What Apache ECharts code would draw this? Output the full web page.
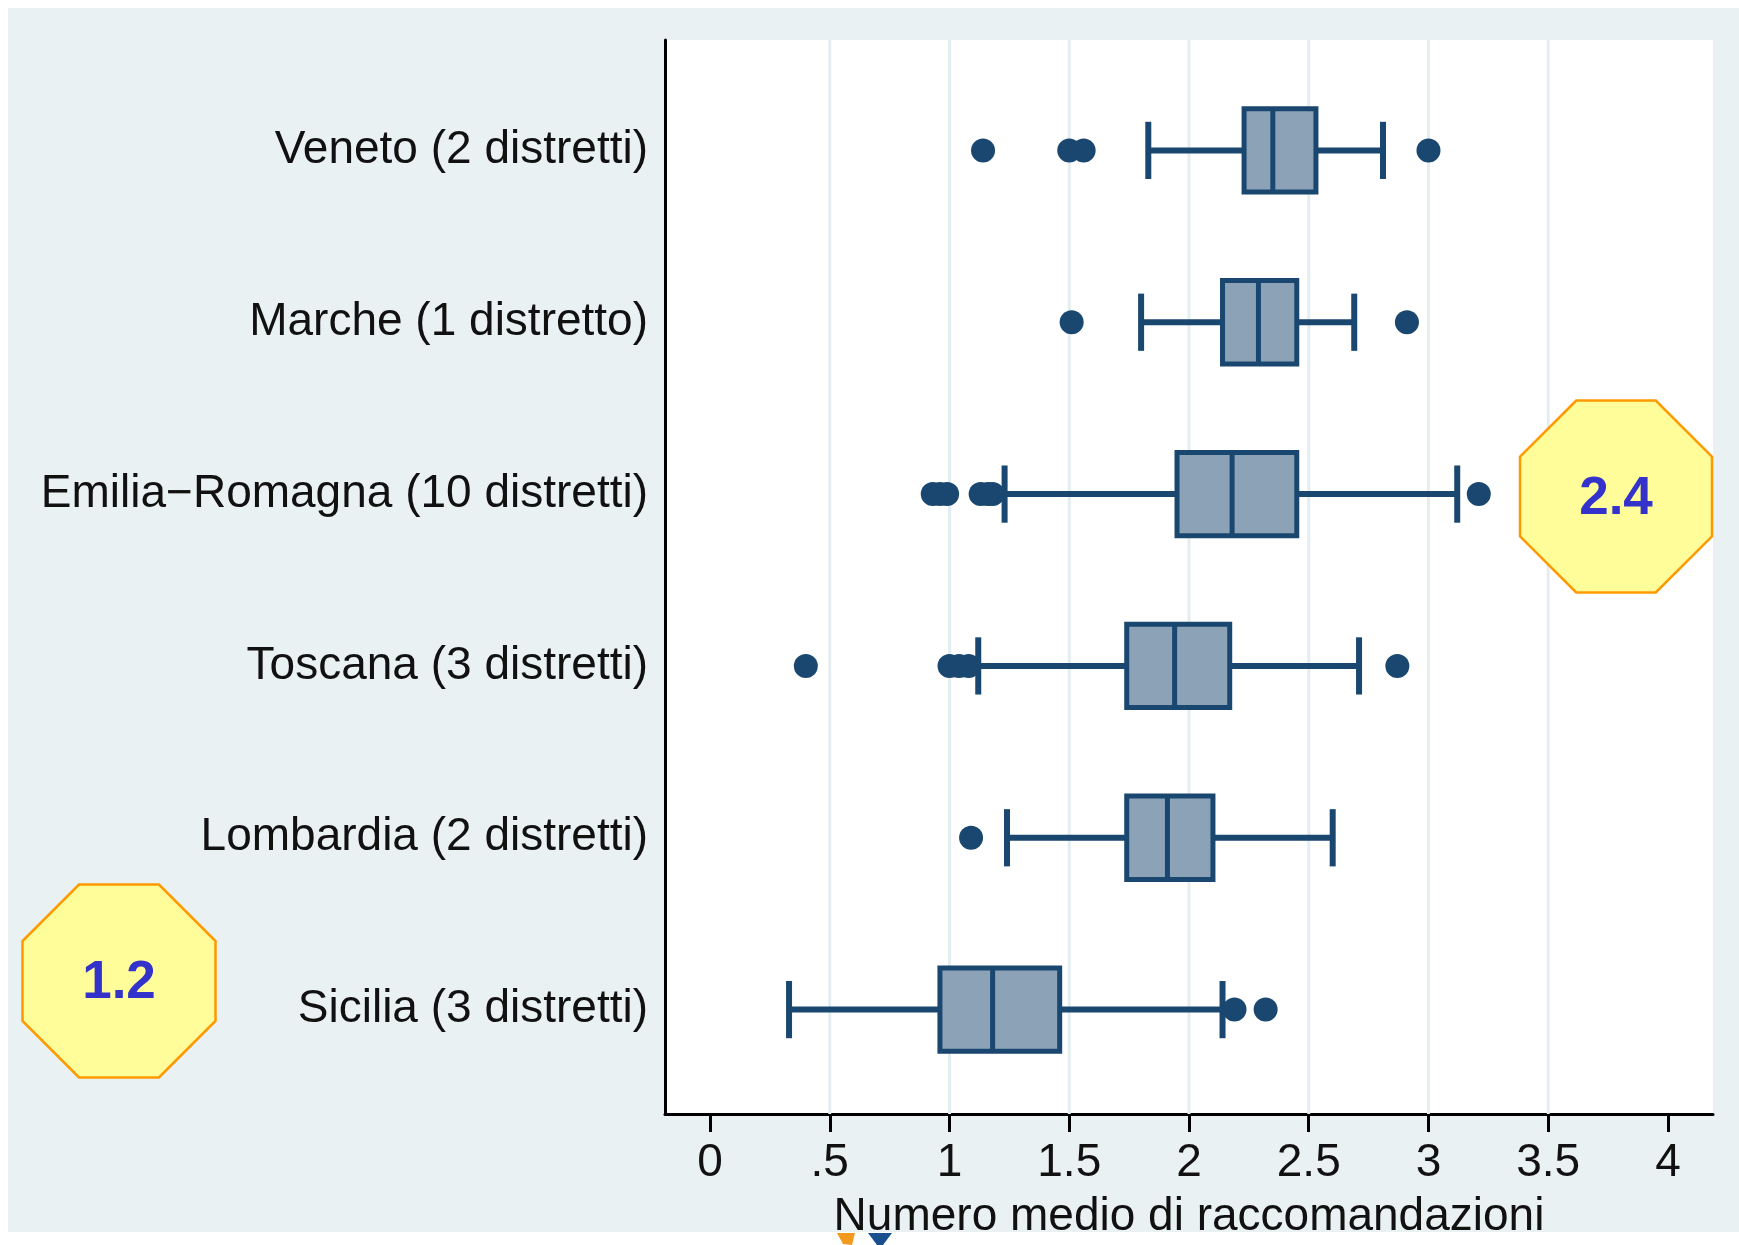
<!DOCTYPE html>
<html>
<head>
<meta charset="utf-8">
<script src="https://cdn.jsdelivr.net/npm/echarts@6/dist/echarts.min.js"></script>
<style>
  html, body { margin: 0; padding: 0; background: #ffffff; }
  #chart { width: 1739px; height: 1245px; }
</style>
</head>
<body>
<div id="chart"></div>
<script>
// ---- data ----
const categories = [
  'Veneto (2 distretti)',
  'Marche (1 distretto)',
  'Emilia\u2212Romagna (10 distretti)',
  'Toscana (3 distretti)',
  'Lombardia (2 distretti)',
  'Sicilia (3 distretti)'
];
const lowerWhisker = [1.83, 1.80, 1.23, 1.12, 1.24, 0.33];
const q1Values     = [2.23, 2.14, 1.95, 1.74, 1.74, 0.96];
const medianValues = [2.35, 2.29, 2.18, 1.94, 1.91, 1.18];
const q3Values     = [2.53, 2.45, 2.45, 2.17, 2.10, 1.46];
const upperWhisker = [2.81, 2.69, 3.12, 2.71, 2.60, 2.14];
const outliersVeneto    = [1.14, 1.50, 1.56, 3.00];
const outliersMarche    = [1.51, 2.91];
const outliersEmilia    = [0.93, 0.96, 0.99, 1.13, 1.16, 1.18, 3.21];
const outliersToscana   = [0.40, 1.00, 1.04, 1.08, 2.87];
const outliersLombardia = [1.09];
const outliersSicilia   = [2.19, 2.32];
const xTickValues = [0, 0.5, 1, 1.5, 2, 2.5, 3, 3.5, 4];
const xTickLabels = ['0', '.5', '1', '1.5', '2', '2.5', '3', '3.5', '4'];
const gridValues  = [0.5, 1, 1.5, 2, 2.5, 3, 3.5];
const xTitle = 'Numero medio di raccomandazioni';
const badgeHigh = '2.4';
const badgeLow  = '1.2';

// ---- build library structures ----
const outlierLists = [outliersVeneto, outliersMarche, outliersEmilia, outliersToscana, outliersLombardia, outliersSicilia];
const rowIdx = categories.map((c, i) => i);
const boxData = rowIdx.map(i => [i, lowerWhisker[i], q1Values[i], medianValues[i], q3Values[i], upperWhisker[i]]);
const outlierData = [];
outlierLists.forEach((list, i) => list.forEach(v => outlierData.push([v, i])));
const gridData = gridValues.map(v => [v, 0]);

const NAVY = '#1A476F';
const FILL = '#8CA3B7';
const FONT = 'Liberation Sans, Arial, sans-serif';

function octagon(cx, cy, w) {
  const h = w / 2, s = w / (2 * (1 + Math.SQRT2));
  return [[cx - s, cy - h], [cx + s, cy - h], [cx + h, cy - s], [cx + h, cy + s],
          [cx + s, cy + h], [cx - s, cy + h], [cx - h, cy + s], [cx - h, cy - s]];
}

const chart = echarts.init(document.getElementById('chart'), null, { renderer: 'canvas' });
chart.setOption({
  backgroundColor: '#EAF1F3',
  animation: false,
  grid: {
    left: 665, right: 26, top: 40, bottom: 131,
    show: true, backgroundColor: '#ffffff', borderWidth: 0,
    outerBoundsMode: 'none'
  },
  xAxis: {
    type: 'value',
    min: -0.188, max: 4.188,
    axisLine: { show: true, onZero: false, lineStyle: { color: '#000', width: 3 } },
    axisTick: { show: true, customValues: xTickValues, length: 18, lineStyle: { color: '#000', width: 3 } },
    axisLabel: {
      customValues: xTickValues, margin: 26,
      fontFamily: FONT, fontSize: 46, color: '#111',
      formatter: v => { const k = xTickValues.findIndex(t => Math.abs(t - v) < 1e-9); return k >= 0 ? xTickLabels[k] : ''; }
    },
    splitLine: { show: false },
    name: xTitle, nameLocation: 'middle', nameGap: 80,
    nameTextStyle: { fontFamily: FONT, fontSize: 46, color: '#111' }
  },
  yAxis: {
    type: 'value',
    min: -0.6425, max: 5.6075, inverse: true,
    axisLine: { show: true, onZero: false, lineStyle: { color: '#000', width: 3 } },
    axisTick: { show: false },
    splitLine: { show: false },
    axisLabel: {
      customValues: rowIdx, margin: 17,
      fontFamily: FONT, fontSize: 46, color: '#111',
      padding: [4, 0, 0, 0],
      formatter: v => categories[Math.round(v)] || ''
    }
  },
  series: [
    {
      type: 'custom', z: 1, silent: true,
      data: gridData,
      encode: { x: 0, y: 1 },
      renderItem: function (params, api) {
        const p = api.coord([api.value(0), api.value(1)]);
        const cs = params.coordSys;
        return { type: 'line', shape: { x1: p[0], y1: cs.y, x2: p[0], y2: cs.y + cs.height },
                 style: { stroke: '#E4EEF0', lineWidth: 3 } };
      }
    },
    {
      type: 'custom', z: 3, silent: true,
      data: boxData,
      encode: { x: [1, 2, 3, 4, 5], y: 0 },
      renderItem: function (params, api) {
        const row = api.value(0);
        const pL = api.coord([api.value(1), row]);
        const pA = api.coord([api.value(2), row]);
        const pM = api.coord([api.value(3), row]);
        const pB = api.coord([api.value(4), row]);
        const pH = api.coord([api.value(5), row]);
        const boxH = api.size([0, 0.485])[1];
        const capH = api.size([0, 0.333])[1];
        const cy = pA[1];
        const ls = { stroke: NAVY, lineWidth: 6, fill: null };
        return {
          type: 'group',
          children: [
            { type: 'line', shape: { x1: pL[0], y1: cy, x2: pA[0], y2: cy }, style: ls },
            { type: 'line', shape: { x1: pB[0], y1: cy, x2: pH[0], y2: cy }, style: ls },
            { type: 'line', shape: { x1: pL[0], y1: cy - capH / 2, x2: pL[0], y2: cy + capH / 2 }, style: ls },
            { type: 'line', shape: { x1: pH[0], y1: cy - capH / 2, x2: pH[0], y2: cy + capH / 2 }, style: ls },
            { type: 'rect', shape: { x: pA[0], y: cy - boxH / 2, width: pB[0] - pA[0], height: boxH },
              style: { fill: FILL, stroke: NAVY, lineWidth: 5 } },
            { type: 'line', shape: { x1: pM[0], y1: cy - boxH / 2, x2: pM[0], y2: cy + boxH / 2 },
              style: { stroke: NAVY, lineWidth: 5 } }
          ]
        };
      }
    },
    {
      type: 'scatter', z: 2, silent: true,
      data: outlierData,
      symbol: 'circle', symbolSize: 24,
      itemStyle: { color: NAVY, opacity: 1 }
    }
  ],
  graphic: [
    { type: 'rect', shape: { x: 0, y: 0, width: 1739, height: 8 }, style: { fill: '#ffffff' }, silent: true },
    { type: 'rect', shape: { x: 0, y: 0, width: 8, height: 1245 }, style: { fill: '#ffffff' }, silent: true },
    { type: 'rect', shape: { x: 0, y: 1232, width: 1739, height: 13 }, style: { fill: '#ffffff' }, silent: true },
    { type: 'polygon', shape: { points: [[837, 1233], [855, 1233], [852, 1245], [843, 1244]] }, style: { fill: '#F39A1E' }, silent: true },
    { type: 'polygon', shape: { points: [[868, 1233], [892, 1233], [883, 1245], [877, 1245]] }, style: { fill: '#1A4F8F' }, silent: true },
    { type: 'polygon', z: 100, shape: { points: octagon(1616, 496.5, 192) },
      style: { fill: '#FFFD99', stroke: '#FF9900', lineWidth: 2.5 }, silent: true },
    { type: 'text', z: 101, x: 1616, y: 499, silent: true,
      style: { text: badgeHigh, font: 'bold 53px ' + FONT, fill: '#3333CC', align: 'center', verticalAlign: 'middle' } },
    { type: 'polygon', z: 100, shape: { points: octagon(119, 981, 193) },
      style: { fill: '#FFFD99', stroke: '#FF9900', lineWidth: 2.5 }, silent: true },
    { type: 'text', z: 101, x: 119, y: 983, silent: true,
      style: { text: badgeLow, font: 'bold 53px ' + FONT, fill: '#3333CC', align: 'center', verticalAlign: 'middle' } }
  ]
});
</script>
</body>
</html>
